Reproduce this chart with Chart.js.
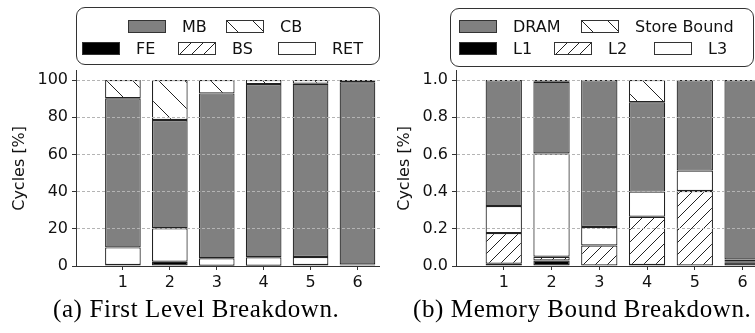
<!DOCTYPE html>
<html>
<head>
<meta charset="utf-8">
<script src="https://cdn.jsdelivr.net/npm/chart.js@4.4.1/dist/chart.umd.min.js"></script>
<style>
    body { margin: 0; background: #fff; width: 755px; height: 333px; position: relative; overflow: hidden; font-family: "DejaVu Sans"; }
    .panel { position: absolute; top: 0; }
    .legend { position: absolute; border: 1px solid #333; border-radius: 9px; box-sizing: border-box; background: #fff; }
    .item { position: absolute; height: 13px; display: flex; align-items: center; font-size: 16px; color: #111; white-space: nowrap; }
    .sw { width: 38px; height: 13px; border: 1px solid #333; box-sizing: border-box; margin-right: 16px; flex: none; }
    .caption { position: absolute; top: 296px; font-family: "Liberation Serif"; font-size: 25px; line-height: 25px; letter-spacing: 0.6px; color: #000; white-space: nowrap; }
</style>
</head>
<body>
<canvas id="chartA" class="panel" style="left:0" width="380" height="333"></canvas>
<canvas id="chartB" class="panel" style="left:380px" width="375" height="333"></canvas>
<div class="legend" style="left:76px;top:7px;width:304px;height:58px"></div>
<div class="legend" style="left:450px;top:8px;width:304px;height:59px"></div>
<div id="legendItems"></div>
<div class="caption" style="left:53px">(a) First Level Breakdown.</div>
<div class="caption" style="left:413px">(b) Memory Bound Breakdown.</div>

<script>
// benchmarks on the x axis
const benchmarks = ['1', '2', '3', '4', '5', '6'];

// (a) first level breakdown, cycles in %
const feVals  = [0.5, 2.3, 0.2, 0.2, 0.5, 0.5];
const bsVals  = [0, 0, 0, 0, 0, 0];
const retVals = [9.5, 18.0, 4.0, 4.5, 4.3, 0.3];
const mbVals  = [80.2, 58.2, 88.6, 93.1, 93.2, 98.0];
const cbVals  = [9.8, 21.5, 7.2, 2.2, 2.0, 1.2];
const yTicksA = [0, 20, 40, 60, 80, 100];

// (b) memory bound breakdown, fraction of cycles
const l1Vals    = [0.012, 0.030, 0.000, 0.005, 0.003, 0.020];
const l2Vals    = [0.165, 0.020, 0.110, 0.260, 0.400, 0.005];
const l3Vals    = [0.145, 0.555, 0.100, 0.135, 0.110, 0.010];
const dramVals  = [0.678, 0.385, 0.790, 0.480, 0.487, 0.965];
const storeVals = [0.000, 0.010, 0.000, 0.120, 0.000, 0.000];
const yTicksB = [0.0, 0.2, 0.4, 0.6, 0.8, 1.0];

const EDGE = '#333';
const BAR_EDGE = '#222';
const FONT = { family: 'DejaVu Sans', size: 16 };

function hatchTile(dir, s) {
    const c = document.createElement('canvas');
    c.width = s; c.height = s;
    const g = c.getContext('2d');
    g.fillStyle = '#fff';
    g.fillRect(0, 0, s, s);
    g.strokeStyle = '#222';
    g.lineWidth = 1;
    g.beginPath();
    [-s, 0, s].forEach(function(o) {
        if (dir === '/') { g.moveTo(o, s); g.lineTo(o + s, 0); }
        else { g.moveTo(o, 0); g.lineTo(o + s, s); }
    });
    g.stroke();
    return c;
}

const backTile = hatchTile('\\', 26);
const fwdTile = hatchTile('/', 12);
const pctx = document.createElement('canvas').getContext('2d');

const styles = {
    gray:  { bg: '#808080', css: 'background:#808080' },
    black: { bg: '#000000', css: 'background:#000' },
    white: { bg: '#ffffff', css: 'background:#fff' },
    back:  { bg: pctx.createPattern(backTile, 'repeat'), css: 'background:#fff url(' + backTile.toDataURL() + ')' },
    fwd:   { bg: pctx.createPattern(fwdTile, 'repeat'), css: 'background:#fff url(' + fwdTile.toDataURL() + ')' },
};

function points(vals) {
    return vals.map(function(v, i) { return { x: i + 1, y: v }; });
}

function dataset(label, vals, style) {
    return {
        label: label,
        data: points(vals),
        backgroundColor: styles[style].bg,
        borderColor: BAR_EDGE,
        borderWidth: 1.2,
        borderSkipped: false,
        barPercentage: 0.76,
        categoryPercentage: 1,
    };
}

const gridOnTop = {
    id: 'gridOnTop',
    afterDatasetsDraw(chart) {
        chart.ctx.save();
        chart.scales.y.drawGrid(chart.chartArea);
        chart.ctx.restore();
    }
};

function makeChart(id, datasets, xMax, yMax, yTicks, fmt, titlePad) {
    return new Chart(document.getElementById(id).getContext('2d'), {
        type: 'bar',
        data: { datasets: datasets },
        plugins: [gridOnTop],
        options: {
            responsive: false,
            animation: false,
            layout: { padding: { top: 70.7, right: 0, bottom: 0, left: 0 } },
            plugins: { legend: { display: false }, tooltip: { enabled: false } },
            scales: {
                x: {
                    type: 'linear',
                    min: 0,
                    max: xMax,
                    stacked: true,
                    offset: false,
                    afterBuildTicks: function(s) { s.ticks = benchmarks.map(function(b, i) { return { value: i + 1 }; }); },
                    afterFit: function(s) { s.height = 67; },
                    ticks: {
                        callback: function(v, i) { return benchmarks[i]; },
                        font: FONT, color: '#111', padding: 3, maxRotation: 0, autoSkip: false,
                    },
                    grid: { drawOnChartArea: false, offset: false, tickLength: 4, color: EDGE },
                    border: { color: EDGE, width: 1 },
                },
                y: {
                    type: 'linear',
                    min: 0,
                    max: yMax,
                    stacked: true,
                    afterBuildTicks: function(s) { s.ticks = yTicks.map(function(v) { return { value: v }; }); },
                    afterFit: function(s) { s.width = 76; },
                    ticks: { callback: fmt, font: FONT, color: '#111', padding: 4 },
                    grid: {
                        color: function(c) { return c.tick && c.tick.value === 0 ? 'rgba(0,0,0,0)' : '#b4b4b4'; },
                        tickColor: EDGE,
                        tickLength: 4,
                        tickBorderDash: [],
                    },
                    border: { color: EDGE, width: 1, dash: [3, 2] },
                    title: { display: true, text: 'Cycles [%]', font: FONT, color: '#111', padding: { top: titlePad, bottom: 0 } },
                },
            },
        },
    });
}

makeChart('chartA', [
    dataset('FE', feVals, 'black'),
    dataset('BS', bsVals, 'fwd'),
    dataset('RET', retVals, 'white'),
    dataset('MB', mbVals, 'gray'),
    dataset('CB', cbVals, 'back'),
], 6.48, 105, yTicksA, function(v) { return String(v); }, 10);

makeChart('chartB', [
    dataset('L1', l1Vals, 'black'),
    dataset('L2', l2Vals, 'fwd'),
    dataset('L3', l3Vals, 'white'),
    dataset('DRAM', dramVals, 'gray'),
    dataset('Store Bound', storeVals, 'back'),
], 6.26, 1.05, yTicksB, function(v) { return v.toFixed(1); }, 15.4);

// legend entries placed like the original figure
const legendLayout = [
    ['MB', 'gray', 128, 20], ['CB', 'back', 226, 20],
    ['FE', 'black', 82, 42], ['BS', 'fwd', 178, 42], ['RET', 'white', 278, 42],
    ['DRAM', 'gray', 459, 20], ['Store Bound', 'back', 581, 20],
    ['L1', 'black', 459, 42], ['L2', 'fwd', 554, 42], ['L3', 'white', 654, 42],
];
document.getElementById('legendItems').innerHTML = legendLayout.map(function(e) {
    return '<div class="item" style="left:' + e[2] + 'px;top:' + e[3] + 'px"><div class="sw" style="' + styles[e[1]].css + '"></div>' + e[0] + '</div>';
}).join('');
</script>
</body>
</html>
